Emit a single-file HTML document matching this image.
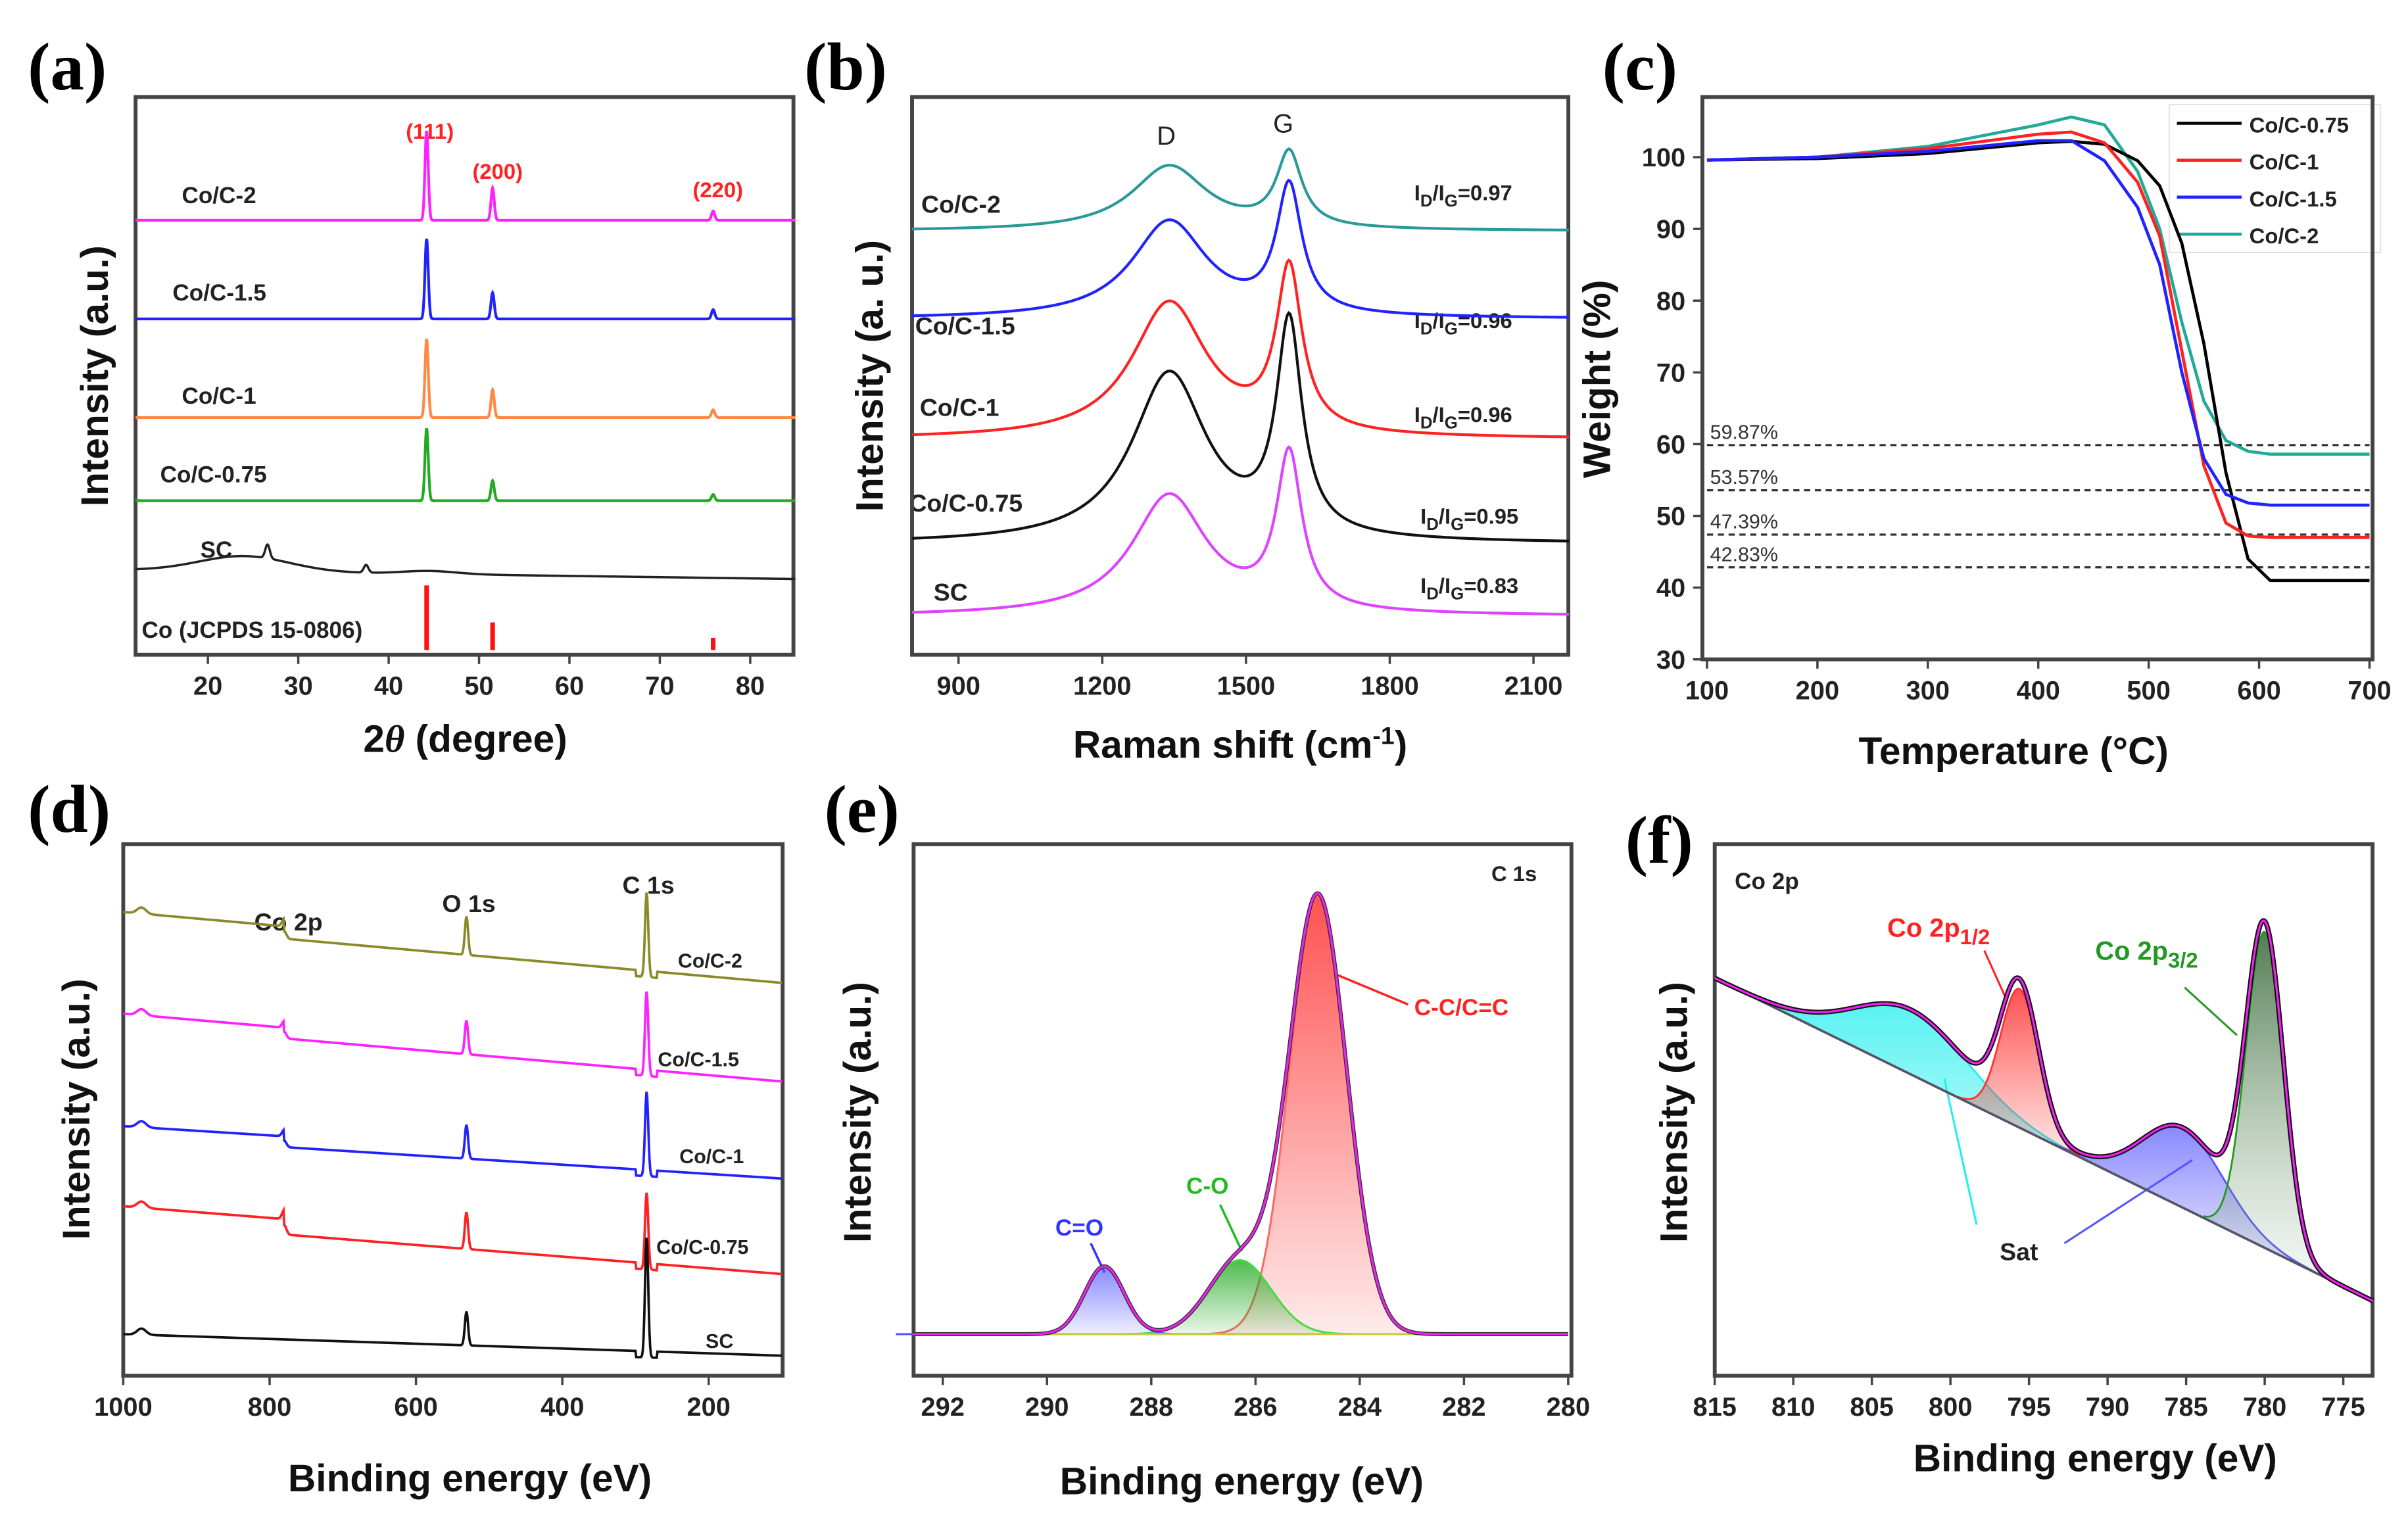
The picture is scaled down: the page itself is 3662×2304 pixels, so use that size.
<!DOCTYPE html>
<html><head><meta charset="utf-8">
<style>
html,body{margin:0;padding:0;background:#fff;}
svg{display:block;}
text{font-family:"Liberation Sans",Arial,sans-serif;font-weight:bold;}
.pl{font-family:"Liberation Serif",serif;font-size:44px;font-weight:bold;}
.tk{font-size:17px;fill:#222;}
.at{font-size:25px;fill:#111;}
.sl{font-size:15px;fill:#222;}
</style></head>
<body>
<svg id="fig" width="3662" height="2304" viewBox="0 0 1563 983.4" preserveAspectRatio="none" xmlns="http://www.w3.org/2000/svg">
<defs>
<linearGradient id="gRed" x1="0" y1="0" x2="0" y2="1"><stop offset="0" stop-color="#f33" stop-opacity="0.85"/><stop offset="1" stop-color="#f33" stop-opacity="0.1"/></linearGradient>
<linearGradient id="gGreen" x1="0" y1="0" x2="0" y2="1"><stop offset="0" stop-color="#2a2" stop-opacity="0.8"/><stop offset="1" stop-color="#2a2" stop-opacity="0.1"/></linearGradient>
<linearGradient id="gBlue" x1="0" y1="0" x2="0" y2="1"><stop offset="0" stop-color="#55f" stop-opacity="0.7"/><stop offset="1" stop-color="#55f" stop-opacity="0.1"/></linearGradient>
<linearGradient id="gCyan" x1="0" y1="0" x2="0" y2="1"><stop offset="0" stop-color="#2ee" stop-opacity="0.8"/><stop offset="1" stop-color="#2ee" stop-opacity="0.3"/></linearGradient>
<linearGradient id="gDG" x1="0" y1="0" x2="0" y2="1"><stop offset="0" stop-color="#363" stop-opacity="0.85"/><stop offset="1" stop-color="#8a8" stop-opacity="0.1"/></linearGradient>
</defs>

<!-- panel letters -->
<text class="pl" x="18" y="58">(a)</text>
<text class="pl" x="522" y="58">(b)</text>
<text class="pl" x="1040" y="58">(c)</text>
<text class="pl" x="18" y="540">(d)</text>
<text class="pl" x="535" y="540">(e)</text>
<text class="pl" x="1055" y="560">(f)</text>

<!-- axis titles -->
<text class="at" transform="translate(70,244) rotate(-90)" text-anchor="middle">Intensity (a.u.)</text>
<text class="at" x="302" y="488" text-anchor="middle">2<tspan font-style="italic" font-family="Liberation Serif">θ</tspan> (degree)</text>
<text class="at" transform="translate(573,244) rotate(-90)" text-anchor="middle">Intensity (a. u.)</text>
<text class="at" x="805" y="492" text-anchor="middle">Raman shift (cm<tspan dy="-9" font-size="16">-1</tspan><tspan dy="9">)</tspan></text>
<text class="at" transform="translate(1045,246) rotate(-90)" text-anchor="middle">Weight (%)</text>
<text class="at" x="1307" y="496" text-anchor="middle">Temperature (°C)</text>
<text class="at" transform="translate(58,720) rotate(-90)" text-anchor="middle">Intensity (a.u.)</text>
<text class="at" x="305" y="968" text-anchor="middle">Binding energy (eV)</text>
<text class="at" transform="translate(565,722) rotate(-90)" text-anchor="middle">Intensity (a.u.)</text>
<text class="at" x="806" y="970" text-anchor="middle">Binding energy (eV)</text>
<text class="at" transform="translate(1095,722) rotate(-90)" text-anchor="middle">Intensity (a.u.)</text>
<text class="at" x="1360" y="955" text-anchor="middle">Binding energy (eV)</text>

<!-- panel a annotations -->
<text x="279" y="90" font-size="14" fill="#f22" text-anchor="middle">(111)</text>
<text x="323" y="116" font-size="14" fill="#f22" text-anchor="middle">(200)</text>
<text x="466" y="128" font-size="14" fill="#f22" text-anchor="middle">(220)</text>
<text class="sl" x="118" y="132">Co/C-2</text>
<text class="sl" x="112" y="195">Co/C-1.5</text>
<text class="sl" x="118" y="262">Co/C-1</text>
<text class="sl" x="104" y="313">Co/C-0.75</text>
<text class="sl" x="130" y="362">SC</text>
<text class="sl" x="92" y="414">Co (JCPDS 15-0806)</text>

<!-- panel b annotations -->
<text x="757" y="94" font-size="17" fill="#222" font-weight="normal" style="font-weight:normal" text-anchor="middle">D</text>
<text x="833" y="86" font-size="17" fill="#222" style="font-weight:normal" text-anchor="middle">G</text>
<text x="598" y="138" font-size="16" fill="#222">Co/C-2</text>
<text x="594" y="217" font-size="16" fill="#222">Co/C-1.5</text>
<text x="597" y="270" font-size="16" fill="#222">Co/C-1</text>
<text x="590" y="332" font-size="16" fill="#222">Co/C-0.75</text>
<text x="606" y="390" font-size="16" fill="#222">SC</text>
<g font-size="14" fill="#222">
<text x="918" y="130">I<tspan dy="4" font-size="11">D</tspan><tspan dy="-4">/I</tspan><tspan dy="4" font-size="11">G</tspan><tspan dy="-4">=0.97</tspan></text>
<text x="918" y="213">I<tspan dy="4" font-size="11">D</tspan><tspan dy="-4">/I</tspan><tspan dy="4" font-size="11">G</tspan><tspan dy="-4">=0.96</tspan></text>
<text x="918" y="274">I<tspan dy="4" font-size="11">D</tspan><tspan dy="-4">/I</tspan><tspan dy="4" font-size="11">G</tspan><tspan dy="-4">=0.96</tspan></text>
<text x="922" y="340">I<tspan dy="4" font-size="11">D</tspan><tspan dy="-4">/I</tspan><tspan dy="4" font-size="11">G</tspan><tspan dy="-4">=0.95</tspan></text>
<text x="922" y="385">I<tspan dy="4" font-size="11">D</tspan><tspan dy="-4">/I</tspan><tspan dy="4" font-size="11">G</tspan><tspan dy="-4">=0.83</tspan></text>
</g>

<!-- panel d annotations -->
<text x="165" y="604" font-size="16" fill="#222">Co 2p</text>
<text x="287" y="592" font-size="16" fill="#222">O 1s</text>
<text x="404" y="580" font-size="16" fill="#222">C 1s</text>
<text x="440" y="628" font-size="13" fill="#222">Co/C-2</text>
<text x="427" y="692" font-size="13" fill="#222">Co/C-1.5</text>
<text x="441" y="755" font-size="13" fill="#222">Co/C-1</text>
<text x="426" y="814" font-size="13" fill="#222">Co/C-0.75</text>
<text x="458" y="875" font-size="13" fill="#222">SC</text>

<!-- panel e annotations -->
<text x="968" y="572" font-size="14" fill="#222">C 1s</text>
<text x="918" y="659" font-size="15" fill="#f22">C-C/C=C</text>
<line x1="914" y1="652" x2="866" y2="632" stroke="#f22" stroke-width="1.5"/>
<text x="770" y="775" font-size="15" fill="#2b2">C-O</text>
<line x1="792" y1="782" x2="806" y2="812" stroke="#2b2" stroke-width="1.5"/>
<text x="685" y="802" font-size="15" fill="#33f">C=O</text>
<line x1="708" y1="807" x2="717" y2="826" stroke="#33f" stroke-width="1.5"/>

<!-- panel f annotations -->
<text x="1126" y="577" font-size="15" fill="#222">Co 2p</text>
<text x="1225" y="608" font-size="17" fill="#f22">Co 2p<tspan dy="5" font-size="14">1/2</tspan></text>
<line x1="1288" y1="617" x2="1302" y2="648" stroke="#f22" stroke-width="1.3"/>
<text x="1360" y="623" font-size="17" fill="#292">Co 2p<tspan dy="5" font-size="14">3/2</tspan></text>
<line x1="1418" y1="641" x2="1452" y2="672" stroke="#292" stroke-width="1.3"/>
<text x="1298" y="818" font-size="16" fill="#222">Sat</text>
<line x1="1262" y1="700" x2="1283" y2="795" stroke="#2ee" stroke-width="1.3"/>
<line x1="1423" y1="753" x2="1340" y2="807" stroke="#55f" stroke-width="1.3"/>

<!-- legend c -->
<g>
<rect x="1408" y="68" width="137" height="96" fill="#fff" stroke="#ccc" stroke-width="0.5"/>
<line x1="1413" y1="80" x2="1455" y2="80" stroke="#000" stroke-width="2"/><text x="1460" y="86" font-size="14" fill="#222">Co/C-0.75</text>
<line x1="1413" y1="104" x2="1455" y2="104" stroke="#f22" stroke-width="2"/><text x="1460" y="110" font-size="14" fill="#222">Co/C-1</text>
<line x1="1413" y1="128" x2="1455" y2="128" stroke="#22f" stroke-width="2"/><text x="1460" y="134" font-size="14" fill="#222">Co/C-1.5</text>
<line x1="1413" y1="152" x2="1455" y2="152" stroke="#2a9" stroke-width="2"/><text x="1460" y="158" font-size="14" fill="#222">Co/C-2</text>
</g>
<g id="marks"></g>
</svg>
<script>
// ---------- Panel (a) XRD data ----------
const xrdPeaks = [44.2, 51.5, 75.9];
const xrdSamples = ["Co/C-2","Co/C-1.5","Co/C-1","Co/C-0.75"];
const xrdBase = [282, 218, 154, 100];
const xrdH111 = [58, 52, 51, 47];
const xrdH200 = [21, 17, 18, 13];
const xrdH220 = [6, 6, 5, 4];
const xrdColors = ["#f2f","#22f","#f84","#2a2"];
const scBase = 55;
const scHumpPos = [24, 26.6, 37.5, 44.5];
const scHumpH = [10, 9, 5, 2];
const scHumpW = [5, 0.25, 0.25, 3];
const refPos = [44.2, 51.5, 75.9];
const refH = [42, 18, 8];
const xrdTicks = [20,30,40,50,60,70,80];
// ---------- Panel (b) Raman ----------
const ramanSamples = ["Co/C-2","Co/C-1.5","Co/C-1","Co/C-0.75","SC"];
const ramanBase = [275, 218, 140, 72, 25];
const ramanD = [42, 63, 88, 110, 78];
const ramanG = [48, 82, 105, 136, 100];
const ramanColors = ["#2a9a98","#22f","#f22","#111","#d4f"];
const ramanDpos = 1340, ramanGpos = 1590;
const ramanTicks = [900,1200,1500,1800,2100];
// ---------- Panel (c) TGA ----------
const tgaTemp = [100,200,300,400,430,460,490,510,530,550,570,590,610,650,700];
const tgaBlack = [99.6,99.8,100.5,102,102.2,101.8,99.5,96,88,74,56,44,41,41,41];
const tgaRed = [99.6,100,101.2,103.2,103.5,102,96.5,89,73,57,49,47.2,47,47,47];
const tgaBlue = [99.6,100,100.8,102.3,102.3,99.5,93,85,70,58,53,51.8,51.5,51.5,51.5];
const tgaTeal = [99.6,100,101.5,104.5,105.6,104.5,98,90,77,66,60.5,59,58.6,58.6,58.6];
const tgaRes = [59.87, 53.57, 47.39, 42.83];
const tgaResLabels = ["59.87%","53.57%","47.39%","42.83%"];
const tgaXTicks = [100,200,300,400,500,600,700];
const tgaYTicks = [30,40,50,60,70,80,90,100];
// ---------- Panel (d) XPS survey ----------
const surveySamples = ["Co/C-2","Co/C-1.5","Co/C-1","Co/C-0.75","SC"];
const surveyLeft = [293, 228, 155, 100, 27];
const surveyRight = [255, 191, 128, 66, 13];
const surveyC1s = [55, 55, 55, 50, 78];
const surveyO1s = [25, 22, 22, 24, 22];
const surveyCo = [8, 7, 7, 10, 0];
const surveyColors = ["#8a8a2a","#f2f","#22f","#f22","#111"];
const surveyTicks = [1000,800,600,400,200];
// ---------- Panel (e) C1s ----------
const c1sPos = [284.8, 286.3, 288.9];
const c1sH = [284, 48, 44];
const c1sW = [0.55, 0.6, 0.38];
const c1sFill = ["url(#gRed)","url(#gGreen)","url(#gBlue)"];
const c1sLine = ["#f66","#4d4","#55f"];
const c1sTicks = [292,290,288,286,284,282,280];
// ---------- Panel (f) Co2p ----------
const co2pPos = [780.0, 795.6, 785.2, 802.5];
const co2pH = [205, 90, 52, 42];
const co2pW = [1.2, 1.2, 2.6, 3.6];
const co2pFill = ["url(#gDG)","url(#gRed)","url(#gBlue)","url(#gCyan)"];
const co2pLine = ["#292","#f33","#55f","#2ee"];
const co2pBgLeft = 258, co2pBgRight = 58;
const co2pTicks = [815,810,805,800,795,790,785,780,775];

const NS = "http://www.w3.org/2000/svg";
const root = document.getElementById("marks");
function mk(tag, parent){ const e=document.createElementNS(NS,tag); parent.appendChild(e); return e; }
function gauss(x,c,h,s){ return h*Math.exp(-(x-c)*(x-c)/(2*s*s)); }
function lor(x,c,h,g){ return h/(1+((x-c)/g)*((x-c)/g)); }
function pathD(pts){ return pts.map((p,i)=>(i?"L":"M")+p[0].toFixed(2)+","+p[1].toFixed(2)).join(""); }
function frame(x0,y0,x1,y1,name){
  const r=mk("rect",root); r.setAttribute("x",x0); r.setAttribute("y",y0); r.setAttribute("width",x1-x0); r.setAttribute("height",y1-y0);
  r.setAttribute("fill","none"); r.setAttribute("stroke","#444"); r.setAttribute("stroke-width","2.5");
  
  
}
function xticks(vals,sx,y,name){
  const g=mk("g",root);
  
  
  vals.forEach(v=>{
    const l=mk("line",g); l.setAttribute("x1",sx(v)); l.setAttribute("x2",sx(v)); l.setAttribute("y1",y); l.setAttribute("y2",y+6); l.setAttribute("stroke","#444"); l.setAttribute("stroke-width","1.5");
    const t=mk("text",g); t.setAttribute("x",sx(v)); t.setAttribute("y",y+26); t.setAttribute("text-anchor","middle"); t.setAttribute("class","tk"); t.textContent=v;
  });
}
function line(pts,color,name,w){
  const p=mk("path",root); p.setAttribute("d",pathD(pts)); p.setAttribute("fill","none"); p.setAttribute("stroke",color); p.setAttribute("stroke-width",w||1.6);
  
  
  return p;
}

// ===== (a) =====
const xa = v => 88 + (v-12)*5.867;
const ya = v => 425 - v;
frame(88,63,515,425,"plot-frame-a");
xticks(xrdTicks, xa, 425, "x-ticks-a");
xrdSamples.forEach((s,i)=>{
  const pts=[];
  for(let x=12;x<=85;x+=0.05){
    let v=xrdBase[i]+gauss(x,xrdPeaks[0],xrdH111[i],0.18)+gauss(x,xrdPeaks[1],xrdH200[i],0.18)+gauss(x,xrdPeaks[2],xrdH220[i],0.18);
    pts.push([xa(x),ya(v)]);
  }
  line(pts,xrdColors[i],"xrd-trace-"+i,1.8);
});
{ const pts=[];
  for(let x=12;x<=85;x+=0.05){
    let v=scBase - (x-12)*0.08;
    scHumpPos.forEach((c,k)=>{ v+=gauss(x,c,scHumpH[k],scHumpW[k]); });
    pts.push([xa(x),ya(v)]);
  }
  line(pts,"#222","xrd-trace-sc",1.5);
}
refPos.forEach((c,k)=>{
  const r=mk("rect",root); r.setAttribute("x",xa(c)-1.5); r.setAttribute("width",3); r.setAttribute("y",ya(refH[k])-3); r.setAttribute("height",refH[k]); r.setAttribute("fill","#f11");
  
  
});

// ===== (b) =====
const xb = v => 592 + (v-803)*0.311;
const yb = v => 425 - v;
frame(592,63,1018,425,"plot-frame-b");
xticks(ramanTicks, xb, 425, "x-ticks-b");
ramanSamples.forEach((s,i)=>{
  const pts=[];
  for(let w=803;w<=2174;w+=3){
    const v=ramanBase[i]+lor(w,ramanDpos,ramanD[i],95)+lor(w,ramanGpos,ramanG[i],32) - lor(w,ramanDpos,ramanD[i],95)*0 ;
    pts.push([xb(w),yb(v)]);
  }
  line(pts,ramanColors[i],"raman-trace-"+i,1.8);
});

// ===== (c) =====
const xc = t => 1108 + (t-100)*0.7167;
const yc = w => 428 - (w-30)*4.657;
frame(1105,63,1540,428,"plot-frame-c");
xticks(tgaXTicks, xc, 428, "x-ticks-c");
{ const g=mk("g",root);
  
  
  tgaYTicks.forEach(v=>{
    const l=mk("line",g); l.setAttribute("x1",1099); l.setAttribute("x2",1105); l.setAttribute("y1",yc(v)); l.setAttribute("y2",yc(v)); l.setAttribute("stroke","#444"); l.setAttribute("stroke-width","1.5");
    const t=mk("text",g); t.setAttribute("x",1094); t.setAttribute("y",yc(v)+6); t.setAttribute("text-anchor","end"); t.setAttribute("class","tk"); t.textContent=v;
  });
}
tgaRes.forEach((r,k)=>{
  const l=mk("line",root); l.setAttribute("x1",xc(100)); l.setAttribute("x2",xc(700)); l.setAttribute("y1",yc(r)); l.setAttribute("y2",yc(r));
  l.setAttribute("stroke","#333"); l.setAttribute("stroke-width","1.4"); l.setAttribute("stroke-dasharray","4,3");
  
  
  const t=mk("text",root); t.setAttribute("x",1110); t.setAttribute("y",yc(r)-4); t.setAttribute("font-size","13"); t.setAttribute("fill","#333"); t.setAttribute("style","font-weight:normal"); t.textContent=tgaResLabels[k];
  
  
});
[[tgaTeal,"#2a9"],[tgaBlack,"#000"],[tgaRed,"#f22"],[tgaBlue,"#22f"]].forEach(([arr,col],i)=>{
  const pts=tgaTemp.map((t,k)=>[xc(t),yc(arr[k])]);
  const p=line(pts,col,"tga-curve-"+i,2);
  p.setAttribute("stroke-linejoin","round");
});

// ===== (d) =====
const xd = e => 80 + (1000-e)*0.475;
const yd = v => 893 - v;
frame(80,548,508,893,"plot-frame-d");
xticks(surveyTicks, xd, 893, "x-ticks-d");
surveySamples.forEach((s,i)=>{
  const pts=[];
  for(let e=1000;e>=100;e-=1){
    let v=surveyLeft[i]+(surveyRight[i]-surveyLeft[i])*(1000-e)/900;
    v+= (e>780? surveyCo[i]:0) + gauss(e,975,4,6);
    v+=gauss(e,284.8,surveyC1s[i],2.2)+gauss(e,531,surveyO1s[i],2.2)+gauss(e,780,surveyCo[i]*0.6,3);
    v-= (e<300 && e>270)? 4:0;
    pts.push([xd(e),yd(v)]);
  }
  line(pts,surveyColors[i],"survey-trace-"+i,1.6);
});

// ===== (e) =====
const xe = b => 593 + (292.56-b)*33.83;
const ye = v => 866 - v;
frame(593,548,1020,893,"plot-frame-e");
xticks(c1sTicks, xe, 893, "x-ticks-e");
c1sPos.forEach((c,k)=>{
  const pts=[];
  for(let b=c+4;b>=c-4;b-=0.02){ pts.push([xe(b),ye(gauss(b,c,c1sH[k],c1sW[k]))]); }
  const p=mk("path",root); p.setAttribute("d",pathD(pts)+"Z"); p.setAttribute("fill",c1sFill[k]); p.setAttribute("stroke",c1sLine[k]); p.setAttribute("stroke-width","1.3");
  
  
});
line([[xe(292.56),ye(0)],[xe(280),ye(0)]],"#cc4","c1s-baseline",1.2);
{ const pts=[];
  for(let b=292.56;b>=280;b-=0.02){ let v=0; c1sPos.forEach((c,k)=>v+=gauss(b,c,c1sH[k],c1sW[k])); pts.push([xe(b),ye(v)]); }
  line(pts,"#333","c1s-raw",2.6); line(pts,"#e2e","c1s-envelope",1.4);
}

// ===== (f) =====
const xf = b => 1113 + (815-b)*10.2;
const bg = b => co2pBgLeft + (co2pBgRight-co2pBgLeft)*(815-b)/40;
const yf = v => 893 - v;
frame(1113,548,1540,893,"plot-frame-f");
xticks(co2pTicks, xf, 893, "x-ticks-f");
[3,2,1,0].forEach(k=>{
  const c=co2pPos[k], top=[],bot=[];
  const span=co2pW[k]*3.2;
  for(let b=c+span;b>=c-span;b-=0.05){ top.push([xf(b),yf(bg(b)+gauss(b,c,co2pH[k],co2pW[k]))]); bot.unshift([xf(b),yf(bg(b))]); }
  const p=mk("path",root); p.setAttribute("d",pathD(top.concat(bot))+"Z"); p.setAttribute("fill",co2pFill[k]); p.setAttribute("stroke",co2pLine[k]); p.setAttribute("stroke-width","1.2");
  
  
});
line([[xf(815),yf(bg(815))],[xf(773.1),yf(bg(773.1))]],"#556","co2p-baseline",1.6);
{ const pts=[];
  for(let b=815;b>=773.1;b-=0.05){ let v=bg(b); co2pPos.forEach((c,k)=>v+=gauss(b,c,co2pH[k],co2pW[k])); pts.push([xf(b),yf(v)]); }
  line(pts,"#111","co2p-raw",3.2); line(pts,"#e2e","co2p-envelope",1.4);
}
</script>
</body></html>
